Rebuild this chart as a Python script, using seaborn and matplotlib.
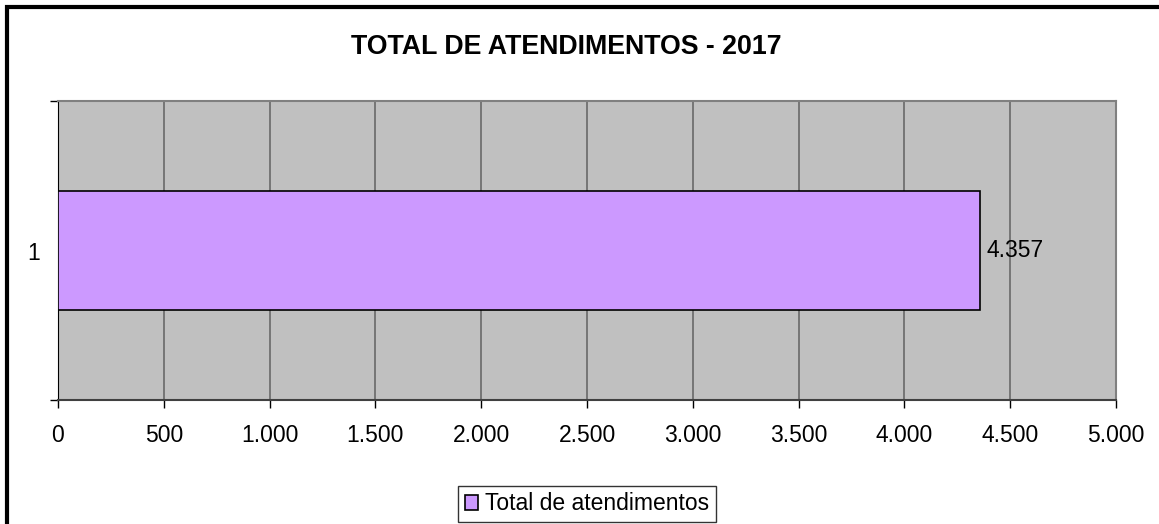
import matplotlib
matplotlib.use('Agg')
import matplotlib.pyplot as plt
import matplotlib.patches as mpatches
from matplotlib.ticker import FuncFormatter, MultipleLocator
import seaborn as sns
import pandas as pd

categories = ['1']
values = [4357]
series_name = 'Total de atendimentos'
title = 'TOTAL DE ATENDIMENTOS - 2017'

sns.set_style('white')
plt.rcParams['font.family'] = ['Liberation Sans', 'DejaVu Sans']
plt.rcParams['text.color'] = 'black'
plt.rcParams['xtick.color'] = 'black'
plt.rcParams['ytick.color'] = 'black'

df = pd.DataFrame({'categoria': categories, 'total': values})

fig = plt.figure(figsize=(11.59, 5.24), dpi=100)
ax = fig.add_axes([58 / 1159, 1 - 400 / 524, (1116 - 58) / 1159, 299 / 524])
ax.set_facecolor('#C0C0C0')

sns.barplot(data=df, x='total', y='categoria', orient='h', color='#CC99FF',
            edgecolor='black', linewidth=1.2, width=0.395, saturation=1, ax=ax, zorder=3)

ax.set_xlim(0, 5000)
ax.set_ylim(0.5, -0.5)
ax.xaxis.set_major_locator(MultipleLocator(500))
ax.xaxis.set_major_formatter(FuncFormatter(lambda v, p: f'{v:,.0f}'.replace(',', '.')))
ax.grid(axis='x', color='#707070', linewidth=1.3, zorder=0)
ax.set_axisbelow(True)

# y ticks at category borders, label in the middle
ax.set_yticks([-0.5, 0.5])
ax.set_yticklabels(['', ''])
ax.set_yticks([0], minor=True)
ax.set_yticklabels(categories, minor=True)
ax.tick_params(axis='y', which='major', left=True, length=6, width=1, color='black')
ax.tick_params(axis='y', which='minor', left=False, length=0, pad=13, labelsize=16.5)
ax.tick_params(axis='x', bottom=True, length=6, width=1, color='black', pad=11, labelsize=16.5)
ax.set_xlabel('')
ax.set_ylabel('')

for side in ['top', 'right']:
    ax.spines[side].set_color('#808080')
    ax.spines[side].set_linewidth(1.5)
ax.spines['left'].set_color('black')
ax.spines['bottom'].set_color('#404040')
ax.spines['bottom'].set_linewidth(1.5)

for v, c in zip(values, range(len(categories))):
    ax.text(v + 30, c, f'{v:,}'.replace(',', '.'), va='center', ha='left', fontsize=16.5, zorder=5)

fig.text(566 / 1159, 1 - 47 / 524, title, ha='center', va='center', fontsize=19.3, fontweight='bold')

handle = mpatches.Patch(facecolor='#CC99FF', edgecolor='black', linewidth=1.2, label=series_name)
leg = fig.legend(handles=[handle], loc='center', bbox_to_anchor=(587 / 1159, 1 - 504 / 524),
                 fontsize=16.5, frameon=True, fancybox=False, edgecolor='black',
                 handlelength=0.6, handleheight=0.6, handletextpad=0.3, borderpad=0.3)
leg.get_frame().set_linewidth(1)

# outer chart border
fig.patches.append(mpatches.Rectangle((7 / 1159, -0.1), 1.2, 1 - 7 / 524 + 0.1,
                                      transform=fig.transFigure, fill=False,
                                      edgecolor='black', linewidth=3))

fig.savefig('out.png', dpi=100)
